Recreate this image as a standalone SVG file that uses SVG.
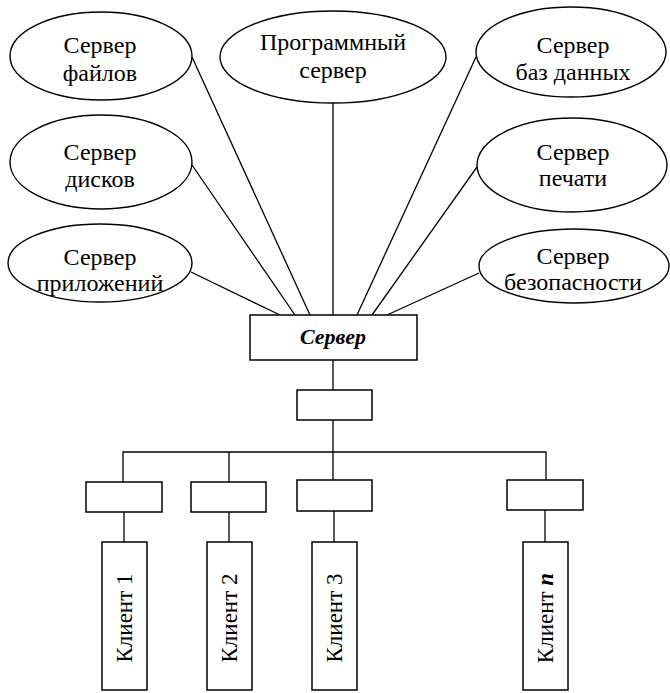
<svg xmlns="http://www.w3.org/2000/svg" width="670" height="693" viewBox="0 0 670 693">
<style>
.e{fill:#fff;stroke:#000;stroke-width:1.4}
.b{fill:#fff;stroke:#000;stroke-width:1.5}
.c line,.c polyline{stroke:#000;stroke-width:1.3;fill:none}
.t{font-family:"Liberation Serif","Times New Roman","DejaVu Serif",serif;font-size:24px;text-anchor:middle;fill:#000}
.k{font-family:"Liberation Serif","Times New Roman","DejaVu Serif",serif;font-size:23px;text-anchor:middle;fill:#000}
</style>
<rect width="670" height="693" fill="#fff"/>
<g class="c" id="connectors">
<line x1="192" y1="57" x2="310" y2="315"/>
<line x1="192" y1="165" x2="295" y2="315"/>
<line x1="191" y1="272" x2="280" y2="315"/>
<line x1="333" y1="103" x2="333" y2="315"/>
<line x1="476" y1="57" x2="357" y2="315"/>
<line x1="477" y1="167" x2="372" y2="315"/>
<line x1="479" y1="273" x2="387" y2="315"/>
<line x1="333" y1="360" x2="333" y2="390"/>
<line x1="333" y1="420" x2="333" y2="480"/>
<polyline points="123,482 123,452 546,452 546,480"/>
<line x1="229" y1="452" x2="229" y2="482"/>
<line x1="124" y1="512" x2="124" y2="542"/>
<line x1="229" y1="512" x2="229" y2="542"/>
<line x1="334" y1="511" x2="334" y2="542"/>
<line x1="545" y1="510" x2="545" y2="542"/>
</g>
<g id="n-files"><ellipse class="e" cx="101" cy="56" rx="91" ry="44"/><text class="t" x="100" y="53">Сервер</text><text class="t" x="100" y="81">файлов</text></g>
<g id="n-prog"><ellipse class="e" cx="333" cy="57" rx="113" ry="46"/><text class="t" x="333" y="50">Программный</text><text class="t" x="333" y="78">сервер</text></g>
<g id="n-db"><ellipse class="e" cx="571" cy="52" rx="95" ry="45"/><text class="t" x="573" y="53">Сервер</text><text class="t" x="573" y="80">баз данных</text></g>
<g id="n-disks"><ellipse class="e" cx="101" cy="162" rx="91" ry="47"/><text class="t" x="100" y="160">Сервер</text><text class="t" x="100" y="187">дисков</text></g>
<g id="n-print"><ellipse class="e" cx="572" cy="165" rx="95" ry="47"/><text class="t" x="573" y="160">Сервер</text><text class="t" x="573" y="186">печати</text></g>
<g id="n-apps"><ellipse class="e" cx="100" cy="263" rx="92" ry="39"/><text class="t" x="100" y="265">Сервер</text><text class="t" x="100" y="291">приложений</text></g>
<g id="n-sec"><ellipse class="e" cx="574" cy="266" rx="95" ry="37"/><text class="t" x="573" y="264">Сервер</text><text class="t" x="573" y="290">безопасности</text></g>
<g id="n-server"><rect class="b" x="250" y="315" width="167" height="45"/><text x="333" y="344" style="font-family:'Liberation Serif','Times New Roman',serif;font-size:22px;font-weight:bold;font-style:italic;text-anchor:middle">Сервер</text></g>
<g id="n-hub"><rect class="b" x="297" y="390" width="75" height="30"/></g>
<g id="n-a1"><rect class="b" x="86" y="482" width="76" height="30"/></g>
<g id="n-a2"><rect class="b" x="191" y="482" width="75" height="30"/></g>
<g id="n-a3"><rect class="b" x="297" y="480" width="75" height="31"/></g>
<g id="n-an"><rect class="b" x="507" y="480" width="76" height="30"/></g>
<g id="n-c1"><rect class="b" x="102" y="542" width="45" height="148"/><text class="k" transform="translate(132,618) rotate(-90)">Клиент 1</text></g>
<g id="n-c2"><rect class="b" x="207" y="542" width="45" height="148"/><text class="k" transform="translate(237,618) rotate(-90)">Клиент 2</text></g>
<g id="n-c3"><rect class="b" x="312" y="542" width="45" height="148"/><text class="k" transform="translate(342,618) rotate(-90)">Клиент 3</text></g>
<g id="n-cn"><rect class="b" x="523" y="542" width="45" height="148"/><text class="k" transform="translate(553,618) rotate(-90)">Клиент <tspan font-weight="bold" font-style="italic">n</tspan></text></g>
</svg>
